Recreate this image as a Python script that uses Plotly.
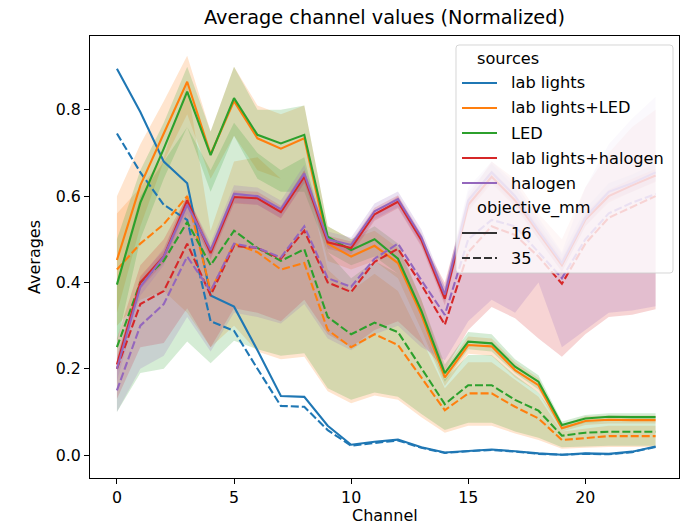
import plotly.graph_objects as go

# ---------------- data ----------------
channels = list(range(24))

sources = ["lab lights", "lab lights+LED", "LED", "lab lights+halogen", "halogen"]
objectives = ["16", "35"]
colors = ["#1f77b4", "#ff7f0e", "#2ca02c", "#d62728", "#9467bd"]

lab_lights_16_mean = [0.895, 0.795, 0.68, 0.63, 0.37, 0.344, 0.243, 0.137, 0.135, 0.068, 0.024, 0.031,
                      0.036, 0.018, 0.006, 0.010, 0.013, 0.009, 0.004, 0.001, 0.004, 0.003, 0.008, 0.020]
lab_lights_35_mean = [0.745, 0.655, 0.58, 0.545, 0.31, 0.288, 0.20, 0.114, 0.112, 0.058, 0.022, 0.028,
                      0.034, 0.017, 0.005, 0.009, 0.012, 0.008, 0.003, 0.001, 0.003, 0.002, 0.007, 0.019]

led_mix_16_mean = [0.452, 0.625, 0.745, 0.865, 0.697, 0.82, 0.734, 0.71, 0.734, 0.49, 0.46, 0.485,
                   0.445, 0.325, 0.18, 0.255, 0.252, 0.197, 0.162, 0.062, 0.079, 0.082, 0.081, 0.081]
led_mix_16_lo = [0.33, 0.53, 0.68, 0.79, 0.64, 0.74, 0.66, 0.64, 0.66, 0.45, 0.43, 0.45,
                 0.41, 0.29, 0.16, 0.235, 0.23, 0.18, 0.145, 0.055, 0.07, 0.073, 0.073, 0.073]
led_mix_16_hi = [0.60, 0.72, 0.82, 0.925, 0.75, 0.90, 0.81, 0.79, 0.81, 0.53, 0.50, 0.52,
                 0.48, 0.36, 0.20, 0.275, 0.27, 0.215, 0.178, 0.07, 0.09, 0.092, 0.092, 0.092]
led_mix_35_mean = [0.43, 0.49, 0.535, 0.60, 0.38, 0.49, 0.47, 0.43, 0.445, 0.29, 0.25, 0.28,
                   0.255, 0.18, 0.104, 0.143, 0.143, 0.112, 0.085, 0.035, 0.04, 0.044, 0.044, 0.044]
led_mix_35_lo = [0.30, 0.36, 0.38, 0.33, 0.25, 0.30, 0.24, 0.222, 0.228, 0.148, 0.12, 0.138,
                 0.128, 0.088, 0.052, 0.068, 0.068, 0.05, 0.035, 0.015, 0.017, 0.019, 0.019, 0.019]
led_mix_35_hi = [0.56, 0.62, 0.69, 0.86, 0.52, 0.68, 0.69, 0.64, 0.66, 0.43, 0.38, 0.42,
                 0.38, 0.27, 0.155, 0.215, 0.215, 0.175, 0.135, 0.055, 0.062, 0.068, 0.068, 0.068]

led_16_mean = [0.395, 0.585, 0.71, 0.842, 0.695, 0.827, 0.742, 0.722, 0.742, 0.506, 0.475, 0.50,
               0.455, 0.334, 0.19, 0.263, 0.259, 0.205, 0.17, 0.07, 0.085, 0.089, 0.088, 0.088]
led_16_lo = [0.26, 0.50, 0.64, 0.76, 0.61, 0.74, 0.64, 0.61, 0.61, 0.47, 0.44, 0.46,
             0.42, 0.30, 0.17, 0.245, 0.24, 0.19, 0.152, 0.06, 0.075, 0.078, 0.078, 0.078]
led_16_hi = [0.50, 0.66, 0.77, 0.90, 0.75, 0.90, 0.80, 0.80, 0.81, 0.53, 0.50, 0.53,
             0.49, 0.36, 0.21, 0.285, 0.28, 0.222, 0.185, 0.078, 0.093, 0.097, 0.097, 0.097]
led_35_mean = [0.25, 0.40, 0.45, 0.54, 0.44, 0.52, 0.48, 0.45, 0.477, 0.32, 0.28, 0.307,
               0.285, 0.20, 0.118, 0.162, 0.162, 0.128, 0.103, 0.045, 0.052, 0.054, 0.054, 0.054]
led_35_lo = [0.10, 0.19, 0.20, 0.263, 0.213, 0.265, 0.245, 0.23, 0.236, 0.155, 0.128, 0.145,
             0.135, 0.095, 0.058, 0.075, 0.075, 0.055, 0.04, 0.018, 0.02, 0.022, 0.022, 0.022]
led_35_hi = [0.40, 0.60, 0.68, 0.76, 0.66, 0.77, 0.70, 0.66, 0.69, 0.47, 0.41, 0.45,
             0.42, 0.30, 0.175, 0.232, 0.232, 0.185, 0.145, 0.068, 0.076, 0.078, 0.078, 0.078]

hal_mix_16_mean = [0.21, 0.40, 0.46, 0.59, 0.468, 0.598, 0.595, 0.563, 0.645, 0.493, 0.48, 0.558,
                   0.587, 0.498, 0.362, 0.58, 0.645, 0.59, 0.515, 0.44, 0.545, 0.60, 0.625, 0.648]
hal_mix_16_lo = [0.195, 0.385, 0.445, 0.575, 0.453, 0.583, 0.58, 0.548, 0.63, 0.478, 0.465, 0.543,
                 0.572, 0.483, 0.347, 0.565, 0.63, 0.575, 0.50, 0.425, 0.53, 0.585, 0.61, 0.633]
hal_mix_16_hi = [0.225, 0.415, 0.475, 0.605, 0.483, 0.613, 0.61, 0.578, 0.66, 0.508, 0.495, 0.573,
                 0.602, 0.513, 0.377, 0.595, 0.66, 0.605, 0.53, 0.455, 0.56, 0.615, 0.64, 0.663]
hal_mix_35_mean = [0.20, 0.35, 0.38, 0.49, 0.37, 0.485, 0.48, 0.455, 0.52, 0.40, 0.378, 0.448,
                   0.478, 0.395, 0.302, 0.47, 0.53, 0.51, 0.46, 0.397, 0.49, 0.55, 0.575, 0.60]
hal_mix_35_lo = [0.13, 0.25, 0.26, 0.34, 0.25, 0.34, 0.33, 0.31, 0.36, 0.28, 0.25, 0.29,
                 0.31, 0.26, 0.197, 0.29, 0.343, 0.317, 0.27, 0.228, 0.28, 0.32, 0.325, 0.338]
hal_mix_35_hi = [0.27, 0.44, 0.50, 0.60, 0.48, 0.60, 0.60, 0.57, 0.66, 0.50, 0.48, 0.56,
                 0.60, 0.50, 0.40, 0.60, 0.68, 0.64, 0.56, 0.50, 0.62, 0.70, 0.76, 0.80]

halogen_16_mean = [0.20, 0.39, 0.46, 0.58, 0.475, 0.605, 0.60, 0.57, 0.652, 0.50, 0.487, 0.565,
                   0.593, 0.505, 0.372, 0.59, 0.655, 0.60, 0.52, 0.445, 0.55, 0.61, 0.63, 0.655]
halogen_16_lo = [0.17, 0.37, 0.44, 0.56, 0.458, 0.585, 0.58, 0.55, 0.632, 0.482, 0.47, 0.547,
                 0.575, 0.487, 0.355, 0.57, 0.635, 0.58, 0.50, 0.425, 0.53, 0.59, 0.61, 0.635]
halogen_16_hi = [0.23, 0.41, 0.48, 0.60, 0.492, 0.625, 0.62, 0.59, 0.672, 0.518, 0.504, 0.583,
                 0.611, 0.523, 0.389, 0.61, 0.675, 0.62, 0.54, 0.465, 0.57, 0.63, 0.65, 0.675]
halogen_35_mean = [0.15, 0.30, 0.35, 0.46, 0.38, 0.49, 0.48, 0.458, 0.53, 0.41, 0.39, 0.455,
                   0.49, 0.405, 0.325, 0.50, 0.545, 0.53, 0.47, 0.41, 0.50, 0.56, 0.585, 0.605]
halogen_35_lo = [0.10, 0.20, 0.23, 0.32, 0.24, 0.33, 0.32, 0.305, 0.35, 0.27, 0.243, 0.28,
                 0.30, 0.25, 0.22, 0.31, 0.36, 0.33, 0.40, 0.25, 0.29, 0.33, 0.335, 0.345]
halogen_35_hi = [0.21, 0.40, 0.47, 0.59, 0.48, 0.61, 0.60, 0.57, 0.65, 0.50, 0.48, 0.56,
                 0.59, 0.50, 0.39, 0.62, 0.68, 0.63, 0.55, 0.47, 0.62, 0.72, 0.78, 0.83]

x_ticks = [0, 5, 10, 15, 20]
y_ticks = [0.0, 0.2, 0.4, 0.6, 0.8]

# series in seaborn drawing order: (source index, objective, mean, lo, hi)
series = [
    (0, "16", lab_lights_16_mean, None, None),
    (0, "35", lab_lights_35_mean, None, None),
    (1, "16", led_mix_16_mean, led_mix_16_lo, led_mix_16_hi),
    (1, "35", led_mix_35_mean, led_mix_35_lo, led_mix_35_hi),
    (2, "16", led_16_mean, led_16_lo, led_16_hi),
    (2, "35", led_35_mean, led_35_lo, led_35_hi),
    (3, "16", hal_mix_16_mean, hal_mix_16_lo, hal_mix_16_hi),
    (3, "35", hal_mix_35_mean, hal_mix_35_lo, hal_mix_35_hi),
    (4, "16", halogen_16_mean, halogen_16_lo, halogen_16_hi),
    (4, "35", halogen_35_mean, halogen_35_lo, halogen_35_hi),
]


def rgba(hexc, a):
    h = hexc.lstrip("#")
    return "rgba(%d,%d,%d,%s)" % (int(h[0:2], 16), int(h[2:4], 16), int(h[4:6], 16), a)


DASH = "8px,3px"
FONT = "DejaVu Sans"
TICK_SIZE = 15.8
LABEL_SIZE = 16.0
LEGEND_SIZE = 16.2
TITLE_SIZE = 19.3

fig = go.Figure()

# confidence bands (below lines)
for si, obj, mean, lo, hi in series:
    if lo is None:
        continue
    fig.add_trace(go.Scatter(
        x=channels + channels[::-1], y=hi + lo[::-1],
        fill="toself", fillcolor=rgba(colors[si], 0.2),
        line=dict(width=0), mode="lines", hoverinfo="skip", showlegend=False))

# mean lines
for si, obj, mean, lo, hi in series:
    fig.add_trace(go.Scatter(
        x=channels, y=mean, mode="lines",
        line=dict(color=colors[si], width=2.1, dash="solid" if obj == "16" else DASH),
        name=f"{sources[si]} / {obj}", showlegend=False))

# ---------------- layout geometry (pixels) ----------------
W, H = 687, 525
PL, PR, PT, PB = 90, 679, 36, 478


def px_x(p):
    return (p - PL) / (PR - PL)


def px_y(p):
    return (PB - p) / (PB - PT)


shapes = []
annotations = []

# legend frame
lx0, lx1, ly0, ly1 = 456, 673, 45, 273
r = 3
path = (f"M {px_x(lx0 + r)},{px_y(ly0)} L {px_x(lx1 - r)},{px_y(ly0)} "
        f"Q {px_x(lx1)},{px_y(ly0)} {px_x(lx1)},{px_y(ly0 + r)} "
        f"L {px_x(lx1)},{px_y(ly1 - r)} Q {px_x(lx1)},{px_y(ly1)} {px_x(lx1 - r)},{px_y(ly1)} "
        f"L {px_x(lx0 + r)},{px_y(ly1)} Q {px_x(lx0)},{px_y(ly1)} {px_x(lx0)},{px_y(ly1 - r)} "
        f"L {px_x(lx0)},{px_y(ly0 + r)} Q {px_x(lx0)},{px_y(ly0)} {px_x(lx0 + r)},{px_y(ly0)} Z")
shapes.append(dict(type="path", path=path, xref="paper", yref="paper", layer="above",
                   fillcolor="rgba(255,255,255,0.8)", line=dict(color="rgba(204,204,204,0.8)", width=1)))

rows = [("sources", None, None)] + [(s, colors[i], "solid") for i, s in enumerate(sources)] + \
       [("objective_mm", None, None), ("16", "#333333", "solid"), ("35", "#333333", DASH)]
row_y0, row_dy = 58, 25
for k, (label, col, dash) in enumerate(rows):
    yc = row_y0 + k * row_dy
    if col is None:
        annotations.append(dict(text=label, x=px_x(475), y=px_y(yc), xref="paper", yref="paper",
                                xanchor="left", yanchor="middle", showarrow=False,
                                font=dict(family=FONT, size=LEGEND_SIZE, color="#000")))
    else:
        shapes.append(dict(type="line", xref="paper", yref="paper", layer="above",
                           x0=px_x(462), x1=px_x(497), y0=px_y(yc), y1=px_y(yc),
                           line=dict(color=col, width=2.1, dash=dash)))
        annotations.append(dict(text=label, x=px_x(509), y=px_y(yc), xref="paper", yref="paper",
                                xanchor="left", yanchor="middle", showarrow=False,
                                font=dict(family=FONT, size=LEGEND_SIZE, color="#000")))

# titles
annotations.append(dict(text="Average channel values (Normalized)", x=0.5, y=px_y(18),
                        xref="paper", yref="paper", xanchor="center", yanchor="middle",
                        showarrow=False, font=dict(family=FONT, size=TITLE_SIZE, color="#000")))
annotations.append(dict(text="Channel", x=0.5, y=px_y(515), xref="paper", yref="paper",
                        xanchor="center", yanchor="middle", showarrow=False,
                        font=dict(family=FONT, size=LABEL_SIZE, color="#000")))
annotations.append(dict(text="Averages", x=px_x(34), y=0.5, xref="paper", yref="paper",
                        xanchor="center", yanchor="middle", textangle=-90, showarrow=False,
                        font=dict(family=FONT, size=LABEL_SIZE, color="#000")))

axis_common = dict(showline=True, linecolor="black", linewidth=1, mirror=True,
                   ticks="outside", ticklen=5, tickwidth=1, tickcolor="black",
                   showgrid=False, zeroline=False,
                   tickfont=dict(family=FONT, size=TICK_SIZE, color="#000"))

fig.update_layout(
    width=W, height=H,
    margin=dict(l=PL, r=W - PR, t=PT, b=H - PB, autoexpand=False),
    paper_bgcolor="white", plot_bgcolor="white",
    showlegend=False,
    xaxis=dict(range=[-1.15, 24.0], tickvals=x_ticks, **axis_common),
    yaxis=dict(range=[-0.053, 0.971], tickvals=y_ticks, tickformat=".1f", **axis_common),
    shapes=shapes, annotations=annotations,
    font=dict(family=FONT),
)

fig.write_html("out.html")
